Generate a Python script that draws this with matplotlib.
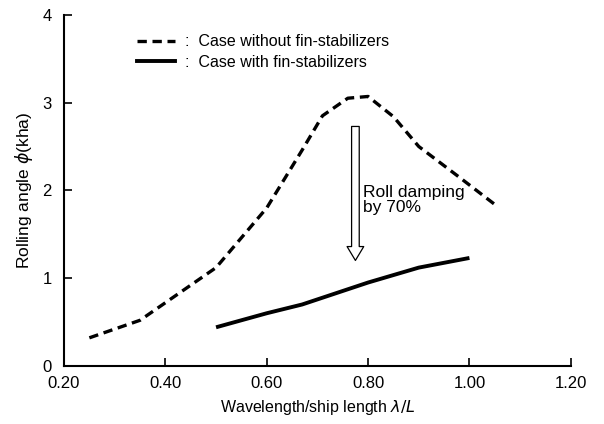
import matplotlib
matplotlib.use("Agg")
from matplotlib import pyplot as plt
from matplotlib.lines import Line2D

plt.rcParams['font.family'] = ['Liberation Sans', 'DejaVu Sans']

# without fin-stabilizers (dashed)
xNoFin = [0.25, 0.35, 0.50, 0.60, 0.67, 0.71, 0.76, 0.80, 0.85, 0.90, 0.98, 1.05]
yNoFin = [0.32, 0.52, 1.12, 1.80, 2.46, 2.85, 3.05, 3.07, 2.84, 2.50, 2.15, 1.84]

# with fin-stabilizers (solid)
xFin = [0.50, 0.60, 0.67, 0.80, 0.90, 1.00]
yFin = [0.44, 0.60, 0.70, 0.95, 1.12, 1.23]

xTicks = [0.20, 0.40, 0.60, 0.80, 1.00, 1.20]
yTicks = [0, 1, 2, 3, 4]

fig = plt.figure(figsize=(6.04, 4.24), dpi=100)
ax = fig.add_axes([0.106, 0.137, 0.839, 0.828])

dash = (0, (2.8, 1.7))
ax.plot(xNoFin, yNoFin, color='black', lw=2.4, linestyle=dash)
ax.plot(xFin, yFin, color='black', lw=2.8, solid_capstyle='butt')

# hollow arrow for roll damping
ax.annotate('', xy=(0.775, 1.17), xytext=(0.775, 2.76),
            arrowprops=dict(arrowstyle='simple,head_length=1.0,head_width=1.2,tail_width=0.55',
                            fc='white', ec='black', lw=0.9))
ax.text(0.79, 1.89, "Roll damping\nby 70%", fontsize=12.5, va='center', ha='left', linespacing=1.05)

ax.set_xlim(0.2, 1.2)
ax.set_ylim(0, 4)
ax.set_xticks(xTicks)
ax.set_xticklabels(["%.2f" % v for v in xTicks])
ax.set_yticks(yTicks)
ax.tick_params(direction='in', length=6, width=1.2, labelsize=12)
ax.tick_params(axis='x', pad=7)
ax.tick_params(axis='y', pad=9)
ax.spines['top'].set_visible(False)
ax.spines['right'].set_visible(False)
ax.spines['left'].set_linewidth(1.5)
ax.spines['bottom'].set_linewidth(1.5)

ax.set_xlabel(r"Wavelength/ship length $\lambda/L$", fontsize=11.5, labelpad=5)
ax.set_ylabel(r"Rolling angle $\phi$(kha)", fontsize=12.5, labelpad=5)

handles = [Line2D([], [], color='black', lw=2.4, linestyle=dash),
           Line2D([], [], color='black', lw=2.8)]
ax.legend(handles, [":  Case without fin-stabilizers", ":  Case with fin-stabilizers"],
          loc='upper left', bbox_to_anchor=(0.115, 0.985), frameon=False, fontsize=11.5,
          handlelength=2.4, handletextpad=0.6, labelspacing=0.35)

plt.savefig("out.png", dpi=100)
